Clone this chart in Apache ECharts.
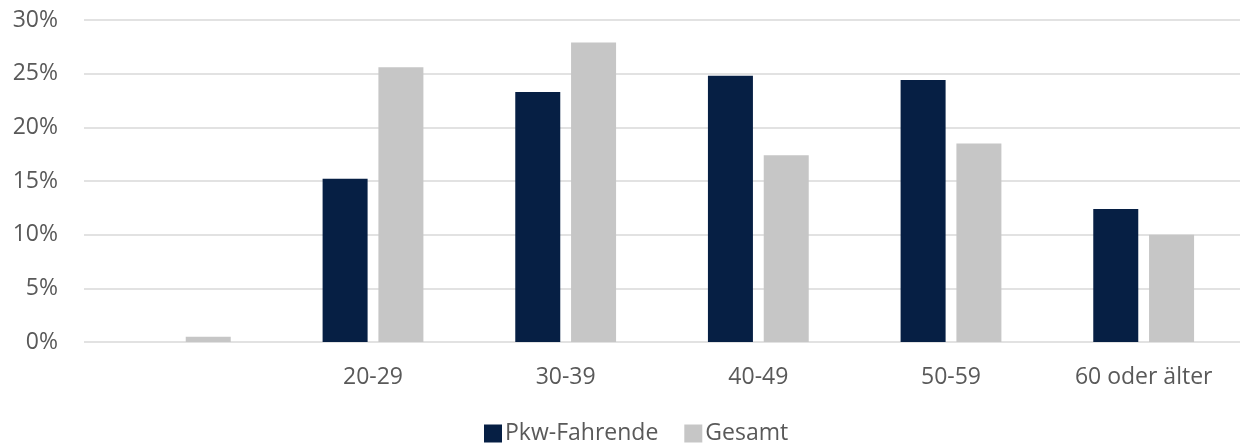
<!DOCTYPE html>
<html>
<head>
<meta charset="utf-8">
<script src="https://cdn.jsdelivr.net/npm/echarts@6/dist/echarts.min.js"></script>
<style>
  html, body { margin: 0; padding: 0; background: #ffffff; }
  #chart { width: 1244px; height: 445px; }
</style>
</head>
<body>
<div id="chart"></div>
<script>
// Age groups (the youngest group carries no label)
const categories = ['', '20-29', '30-39', '40-49', '50-59', '60 oder älter'];
// Share per age group, in percent
const pkwFahrende = [0, 15.2, 23.3, 24.8, 24.4, 12.4];
const gesamt = [0.5, 25.6, 27.9, 17.4, 18.5, 10.0];
const seriesNames = ['Pkw-Fahrende', 'Gesamt'];
const yTicks = { min: 0, max: 30, interval: 5 };

const FONT = '"Open Sans", "Noto Sans", sans-serif';
const TEXT = '#595959';

const chart = echarts.init(document.getElementById('chart'), null, { renderer: 'canvas' });
chart.setOption({
  animation: false,
  textStyle: { fontFamily: FONT },
  grid: { left: 84, right: 4, top: 20, bottom: 103, containLabel: false },
  legend: {
    bottom: -5,
    left: 479,
    icon: 'rect',
    itemWidth: 18,
    itemHeight: 18,
    itemGap: 26,
    textStyle: { fontFamily: FONT, fontSize: 23, color: TEXT, padding: [0, 0, 0, -2] },
    data: seriesNames
  },
  xAxis: {
    type: 'category',
    data: categories,
    axisLine: { show: false },
    axisTick: { show: false },
    axisLabel: { fontFamily: FONT, fontSize: 23, color: TEXT, margin: 24 }
  },
  yAxis: {
    type: 'value',
    min: yTicks.min,
    max: yTicks.max,
    interval: yTicks.interval,
    axisLine: { show: false },
    axisTick: { show: false },
    splitLine: { lineStyle: { color: '#d9d9d9', width: 1.5 } },
    axisLabel: {
      fontFamily: FONT, fontSize: 23, color: TEXT, margin: 26,
      formatter: v => v + '%'
    }
  },
  series: [
    {
      name: seriesNames[0],
      type: 'bar',
      data: pkwFahrende,
      barWidth: 45,
      barGap: '24%',
      itemStyle: { color: '#061f44' }
    },
    {
      name: seriesNames[1],
      type: 'bar',
      data: gesamt,
      barWidth: 45,
      itemStyle: { color: '#c6c6c6' }
    }
  ]
});
</script>
</body>
</html>
